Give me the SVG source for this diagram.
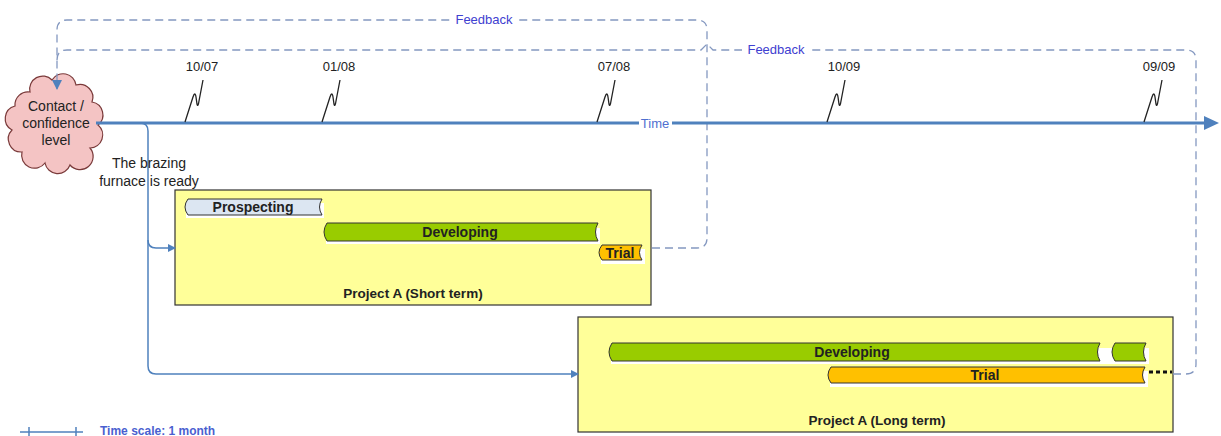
<svg xmlns="http://www.w3.org/2000/svg" width="1221" height="436" viewBox="0 0 1221 436">
<style>
text{font-family:"Liberation Sans",Arial,sans-serif}
.date{font-size:13px;fill:#222;text-anchor:middle}
.zig{fill:none;stroke:#222;stroke-width:1.3}
.fb{fill:none;stroke:#8498c0;stroke-width:1.3;stroke-dasharray:8,5}
.fbt{font-size:13px;fill:#4040d0;text-anchor:middle}
.conn{fill:none;stroke:#4f81bd;stroke-width:1.5}
.box{fill:#ffff99;stroke:#333;stroke-width:1.2}
.bar{stroke:#333;stroke-width:1}
.shadow{fill:#ffffff}
.bt{font-size:14px;font-weight:bold;fill:#222;text-anchor:middle}
.pt{font-size:13.5px;font-weight:bold;fill:#222;text-anchor:middle}
.ct{font-size:14px;fill:#222;text-anchor:middle}
</style>
<defs>
<marker id="arr" markerWidth="8" markerHeight="8" refX="7" refY="4" orient="auto" markerUnits="userSpaceOnUse"><path d="M0,0 L8,4 L0,8 Z" fill="#4f81bd"/></marker>
<marker id="arrfb" markerWidth="10" markerHeight="10" refX="9" refY="5" orient="auto" markerUnits="userSpaceOnUse"><path d="M0,0 L10,5 L0,10 Z" fill="#4f81bd"/></marker>
</defs>

<g id="boxes">
<g id="short-term">
<rect class="box" x="175" y="190" width="476" height="115"/>
<text class="pt" x="413" y="298">Project A (Short  term)</text>
</g>
<g id="long-term">
<rect class="box" x="578" y="317" width="595" height="115"/>
<text class="pt" x="877" y="425">Project A (Long  term)</text>
</g>
</g>

<g id="cloud">
<path d="M30,92 A13,13 0 0 1 52,80 A13,13 0 0 1 76,85 A13,13 0 0 1 92,102 A13,13 0 0 1 98,125 A13,13 0 0 1 90,148 A13,13 0 0 1 70,165 A13,13 0 0 1 45,163 A13,13 0 0 1 22,152 A13,13 0 0 1 12,130 A13,13 0 0 1 15,106 A13,13 0 0 1 30,92 Z" fill="#f4c4c4" stroke="#7a3a3a" stroke-width="1.2"/>
<text class="ct" x="56" y="111">Contact /</text>
<text class="ct" x="56" y="128">confidence</text>
<text class="ct" x="56" y="145">level</text>
</g>

<g id="connectors">
<path class="fb" d="M652,248 L697,248 Q707,248 707,238 L707,30 Q707,20 697,20 L67,20 Q57,20 57,30 L57,89" marker-end="url(#arrfb)"/>
<path class="fb" d="M1173,374 L1186,374 Q1196,374 1196,364 L1196,60 Q1196,50 1186,50 L713,50 L707,44 L701,50 L67,50 Q57,50 57,60"/>
<path class="conn" d="M100,123 L140,123 Q148,123 148,131 L148,240 Q148,248 156,248 L175,248" marker-end="url(#arr)"/>
<path class="conn" d="M148,240 L148,366 Q148,374 156,374 L578,374" marker-end="url(#arr)"/>
<rect x="450" y="12" width="68" height="15" fill="#fff"/>
<text class="fbt" x="484" y="24">Feedback</text>
<rect x="742" y="42" width="68" height="15" fill="#fff"/>
<text class="fbt" x="776" y="54">Feedback</text>
</g>

<g id="timeline">
<line x1="96" y1="123" x2="1206" y2="123" stroke="#4f81bd" stroke-width="3"/>
<path d="M1204,116 L1219,123 L1204,130 Z" fill="#4f81bd"/>
<rect x="639" y="116" width="33" height="14" fill="#fff"/>
<text x="655" y="128" font-size="13" fill="#4f6fd0" text-anchor="middle">Time</text>
<g id="tick-1007"><path class="zig" d="M185,122 L193,97 Q195,91 196,97 L197,104 Q198,108 199,101 L203,80"/><text class="date" x="202" y="71">10/07</text></g>
<g id="tick-0108"><path class="zig" d="M322,122 L330,97 Q332,91 333,97 L334,104 Q335,108 336,101 L340,80"/><text class="date" x="339" y="71">01/08</text></g>
<g id="tick-0708"><path class="zig" d="M597,122 L605,97 Q607,91 608,97 L609,104 Q610,108 611,101 L615,80"/><text class="date" x="614" y="71">07/08</text></g>
<g id="tick-1009"><path class="zig" d="M827,122 L835,97 Q837,91 838,97 L839,104 Q840,108 841,101 L845,80"/><text class="date" x="844" y="71">10/09</text></g>
<g id="tick-0909"><path class="zig" d="M1144,122 L1152,97 Q1154,91 1155,97 L1156,104 Q1157,108 1158,101 L1162,80"/><text class="date" x="1159" y="71">09/09</text></g>
</g>

<g id="note">
<text class="ct" x="149" y="168">The brazing</text>
<text class="ct" x="149" y="186">furnace is ready</text>
</g>

<g id="bars-short">
<rect class="shadow" x="186" y="203" width="138" height="15"/>
<path class="bar" fill="#dce6f2" d="M188,199 L322,199 Q317,207 322,215 L188,215 Q182,207 188,199 Z"/>
<text class="bt" x="253" y="212">Prospecting</text>
<rect class="shadow" x="326" y="228" width="274" height="16"/>
<path class="bar" fill="#99cc00" d="M327,223 L598,223 Q593,232 598,241 L327,241 Q321,232 327,223 Z"/>
<text class="bt" x="460" y="237">Developing</text>
<rect class="shadow" x="601" y="249" width="44" height="15"/>
<path class="bar" fill="#ffc000" d="M602,245 L642,245 Q637,252.5 642,260 L602,260 Q596,252.5 602,245 Z"/>
<text class="bt" x="620" y="258">Trial</text>
</g>

<g id="bars-long">
<rect class="shadow" x="611" y="348" width="538" height="16"/>
<path class="bar" fill="#99cc00" d="M612,343 L1100,343 Q1095,352 1100,361 L612,361 Q606,352 612,343 Z"/>
<path class="bar" fill="#99cc00" d="M1115,343 L1146,343 Q1141,352 1146,361 L1115,361 Q1109,352 1115,343 Z"/>
<text class="bt" x="852" y="357">Developing</text>
<rect class="shadow" x="830" y="371" width="318" height="16"/>
<path class="bar" fill="#ffc000" d="M831,367 L1145,367 Q1140,375 1145,383 L831,383 Q825,375 831,367 Z"/>
<text class="bt" x="985" y="380">Trial</text>
<line x1="1149" y1="372" x2="1172" y2="372" stroke="#111" stroke-width="3" stroke-dasharray="4,3"/>
</g>

<g id="legend">
<line x1="20" y1="432" x2="83" y2="432" stroke="#4f81bd" stroke-width="1.5"/>
<line x1="29" y1="427" x2="29" y2="436" stroke="#4f81bd" stroke-width="1.5"/>
<line x1="76" y1="427" x2="76" y2="436" stroke="#4f81bd" stroke-width="1.5"/>
<text x="100" y="435" font-size="12" font-weight="bold" fill="#4a5fd0">Time scale: 1 month</text>
</g>
</svg>
